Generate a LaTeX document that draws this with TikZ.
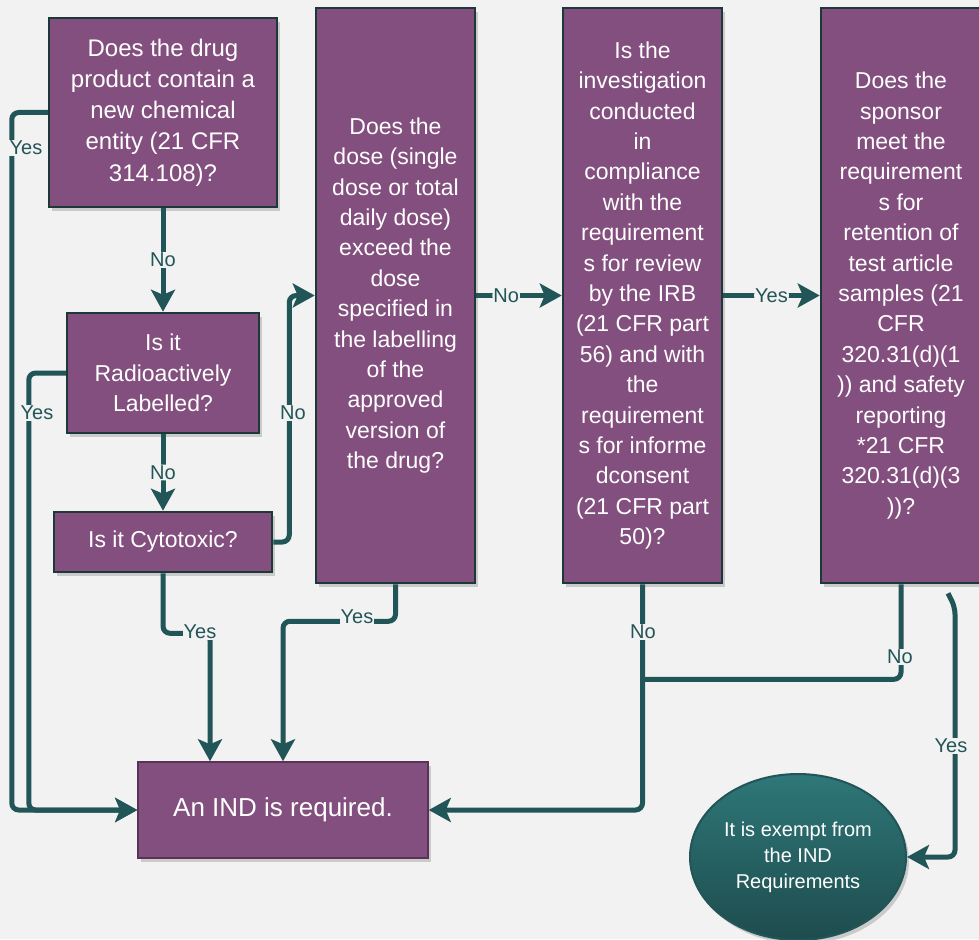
\documentclass[tikz,border=0pt]{standalone}
\usepackage{fontspec}
\setmainfont{Liberation Sans}
\usetikzlibrary{arrows.meta,shapes.geometric,shadows,calc}

\definecolor{bgc}{HTML}{F2F2F2}
\definecolor{boxfill}{HTML}{834F7E}
\definecolor{boxline}{HTML}{1D3839}
\definecolor{flowc}{HTML}{215557}
\definecolor{indline}{HTML}{5A3157}
\definecolor{exTop}{HTML}{2E7778}
\definecolor{exBot}{HTML}{1E4C4E}

\tikzset{
  qbox/.style={draw=boxline, line width=2.5pt, fill=boxfill, text=white, align=center,
    inner sep=0pt, font=\fontsize{23}{30.4}\selectfont,
    drop shadow={shadow xshift=3pt, shadow yshift=-4pt, opacity=0.35}},
  flow/.style={draw=flowc, line width=5pt, rounded corners=7pt,
    -{Stealth[length=22pt,width=24pt,inset=5pt]}},
  flowline/.style={draw=flowc, line width=5pt, rounded corners=7pt},
  lbl/.style={fill=bgc, text=flowc, inner sep=1pt, font=\fontsize{20}{22}\selectfont},
}

\begin{document}
\begin{tikzpicture}[x=1pt, y=-1pt]
  \path[use as bounding box, fill=bgc] (0,0) rectangle (979,939);

  % questions
  \node[qbox, minimum width=228pt, minimum height=189pt, font=\fontsize{24}{31.2}\selectfont] (chem) at (163,112.5)
    {Does the drug\\product contain a\\new chemical\\entity (21 CFR\\314.108)?};
  \node[qbox, minimum width=192pt, minimum height=120pt] (radio) at (163,373) {Is it\\Radioactively\\Labelled?};
  \node[qbox, minimum width=218pt, minimum height=60pt] (cyto) at (163,542) {Is it Cytotoxic?};
  \node[qbox, minimum width=159pt, minimum height=575pt] (dose) at (395.5,295.5)
    {Does the\\dose (single\\dose or total\\daily dose)\\exceed the\\dose\\specified in\\the labelling\\of the\\approved\\version of\\the drug?};
  \node[qbox, minimum width=159pt, minimum height=575pt] (irb) at (642.5,295.5)
    {Is the\\investigation\\conducted\\in\\compliance\\with the\\requirement\\s for review\\by the IRB\\(21 CFR part\\56) and with\\the\\requirement\\s for informe\\dconsent\\(21 CFR part\\50)?};
  \node[qbox, minimum width=160pt, minimum height=575pt] (spon) at (901,295.5)
    {Does the\\sponsor\\meet the\\requirement\\s for\\retention of\\test article\\samples (21\\CFR\\320.31(d)(1\\)) and safety\\reporting\\*21 CFR\\320.31(d)(3\\))?};

  % outcomes
  \node[qbox, draw=indline, line width=1.5pt, minimum width=290pt, minimum height=96pt,
    font=\fontsize{26}{30}\selectfont] (ind) at (283,810) {An IND is required.};
  \node[ellipse, draw=flowc, line width=2pt, top color=exTop, bottom color=exBot, text=white,
    align=center, minimum width=216pt, minimum height=166pt, inner sep=0pt,
    font=\fontsize{20}{26}\selectfont,
    drop shadow={shadow xshift=3pt, shadow yshift=-4pt, opacity=0.35}] (exempt) at (798,857)
    {It is exempt from\\the IND\\Requirements};

  % connectors
  \draw[flow] (chem.south) -- (radio.north) node[lbl, midway] {No};
  \draw[flow] (radio.south) -- (cyto.north) node[lbl, midway] {No};
  \draw[flow] (chem.west) -- ++(-36,0) |- (ind.west);
  \draw[flow] (radio.west) -- ++(-37,0) |- (ind.west);
  \draw[flow] (cyto.east) -- ++(16,0) |- (dose.west);
  \draw[flow] (cyto.south) -- ++(0,60) -| ([xshift=-73pt]ind.north);
  \draw[flow] (dose.south) -- ++(0,37) -| (ind.north);
  \draw[flow] (dose.east) -- (irb.west) node[lbl, pos=0.35] {No};
  \draw[flow] (irb.east) -- (spon.west) node[lbl, midway] {Yes};
  \draw[flow] (irb.south) |- (ind.east);
  \coordinate (merge) at ($(irb.south)+(0,95)$);
  \draw[flowline] (spon.south) |- (merge);
  \coordinate (exitY) at ($(spon.south)+(47,9)$);
  \draw[flow] (exitY) -- ++(7,14) |- (exempt.east);

  % labels
  \node[lbl] (yesA) at (26,148) {Yes};
  \node[lbl] (yesB) at (37,413) {Yes};
  \node[lbl] (noC) at (293,413) {No};
  \node[lbl] (yesD) at (200,632) {Yes};
  \node[lbl] (yesE) at (357,617) {Yes};
  \node[lbl] (noF) at (643,632) {No};
  \node[lbl] (noG) at (900,657) {No};
  \node[lbl] (yesH) at (951,746) {Yes};
\end{tikzpicture}
\end{document}
